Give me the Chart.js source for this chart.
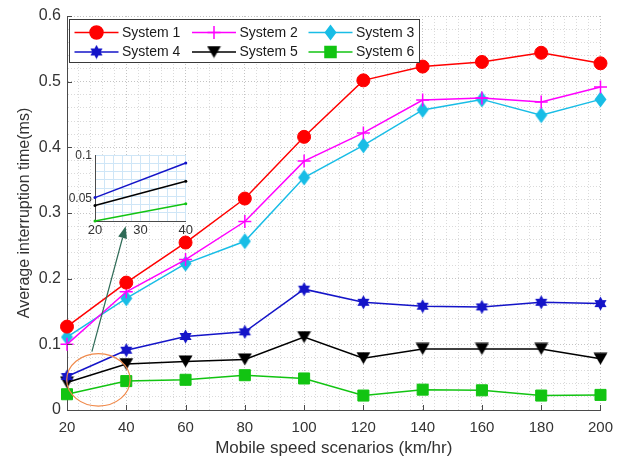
<!DOCTYPE html>
<html>
<head>
<meta charset="utf-8">
<script src="https://cdn.jsdelivr.net/npm/chart.js@4.4.1/dist/chart.umd.min.js"></script>
<style>
  html, body { margin: 0; padding: 0; background: #fff; }
  #wrap { position: relative; width: 622px; height: 459px; }
  #main { position: absolute; left: 0; top: 0; }
  #inset { position: absolute; left: 55px; top: 145px; }
</style>
</head>
<body>
<div id="wrap">
  <canvas id="main" width="622" height="459"></canvas>
  <canvas id="inset" width="140" height="95"></canvas>
</div>
<script>
// Mobile speed scenarios (km/hr)
const speeds = [20, 40, 60, 80, 100, 120, 140, 160, 180, 200];

// Average interruption time (ms) per system
const system1 = [0.127, 0.194, 0.255, 0.322, 0.416, 0.502, 0.523, 0.530, 0.544, 0.528];
const system2 = [0.100, 0.180, 0.229, 0.287, 0.379, 0.422, 0.472, 0.475, 0.469, 0.492];
const system3 = [0.111, 0.170, 0.223, 0.257, 0.354, 0.403, 0.457, 0.473, 0.449, 0.473];
const system4 = [0.051, 0.091, 0.112, 0.119, 0.184, 0.164, 0.158, 0.157, 0.164, 0.162];
const system5 = [0.042, 0.070, 0.074, 0.077, 0.111, 0.079, 0.093, 0.093, 0.093, 0.078];
const system6 = [0.024, 0.044, 0.046, 0.053, 0.048, 0.022, 0.031, 0.030, 0.022, 0.023];

const seriesNames = ['System 1', 'System 2', 'System 3', 'System 4', 'System 5', 'System 6'];

// Labelled ticks
const xTickLabels = [20, 40, 60, 80, 100, 120, 140, 160, 180, 200];
const yTickLabels = [0, 0.1, 0.2, 0.3, 0.4, 0.5, 0.6];
const insetXTickLabels = [20, 30, 40];
const insetYTickLabels = [0.05, 0.1];

// Zoomed window shown in the inset
const insetSpeeds = [20, 40];
const insetYRange = [0.024, 0.1];

// Highlight ellipse (centre and radii in data units) and the arrow to the inset
const zoomEllipse = { x: 30.6, y: 0.046, rx: 10.7, ry: 0.040 };
const zoomArrow = { from: [28.4, 0.089], to: [39.8, 0.28] };

const FONT = 'Arial, "Liberation Sans", Helvetica, sans-serif';
const TEXT = '#333333';
const AXIS = '#4a4a4a';
const GRID_MAJOR = '#c4c4c4';
const GRID_MINOR = '#dadada';

const COLORS = ['#ff0000', '#ff00ff', '#18bde6', '#1414c8', '#000000', '#12c412'];

// Marker images for shapes Chart.js does not provide
function markerCanvas(w, h, draw) {
  const c = document.createElement('canvas');
  c.width = w; c.height = h;
  draw(c.getContext('2d'), w, h);
  return c;
}
const diamondMarker = markerCanvas(13, 17, (g, w, h) => {
  g.fillStyle = COLORS[2];
  g.beginPath();
  g.moveTo(w / 2, 0.5); g.lineTo(w - 0.5, h / 2); g.lineTo(w / 2, h - 0.5); g.lineTo(0.5, h / 2);
  g.closePath(); g.fill();
});
const hexagramMarker = markerCanvas(15, 15, (g, w, h) => {
  const cx = w / 2, cy = h / 2, R = 7;
  g.fillStyle = COLORS[3];
  [-90, 90].forEach(start => {
    g.beginPath();
    for (let k = 0; k < 3; k++) {
      const a = (start + k * 120) * Math.PI / 180;
      const px = cx + R * Math.cos(a), py = cy + R * Math.sin(a);
      k === 0 ? g.moveTo(px, py) : g.lineTo(px, py);
    }
    g.closePath(); g.fill();
  });
});
const triangleDownMarker = markerCanvas(15, 13, (g, w, h) => {
  g.fillStyle = COLORS[4];
  g.beginPath();
  g.moveTo(0.5, 0.5); g.lineTo(w - 0.5, 0.5); g.lineTo(w / 2, h - 0.5);
  g.closePath(); g.fill();
});

const markers = [
  { pointStyle: 'circle', radius: 6.5, borderWidth: 1 },
  { pointStyle: 'cross', radius: 6.5, borderWidth: 1.5 },
  { pointStyle: diamondMarker, radius: 8, borderWidth: 0 },
  { pointStyle: hexagramMarker, radius: 7, borderWidth: 0 },
  { pointStyle: triangleDownMarker, radius: 7, borderWidth: 0 },
  { pointStyle: 'rect', radius: 7.8, borderWidth: 1 }
];

const allSeries = [system1, system2, system3, system4, system5, system6];

const datasets = allSeries.map((vals, i) => ({
  label: seriesNames[i],
  data: speeds.map((x, j) => ({ x: x, y: vals[j] })),
  borderColor: COLORS[i],
  backgroundColor: COLORS[i],
  borderWidth: 1.5,
  pointStyle: markers[i].pointStyle,
  pointRadius: markers[i].radius,
  pointHoverRadius: markers[i].radius,
  pointBorderWidth: markers[i].borderWidth,
  pointBorderColor: COLORS[i],
  pointBackgroundColor: COLORS[i],
  tension: 0,
  clip: false
}));

const isMultiple = (v, step) => Math.abs(v / step - Math.round(v / step)) < 1e-6;

// Ellipse, arrow, legend box and inward tick marks
const decorations = {
  id: 'decorations',
  afterDatasetsDraw(chart) {
    const ctx = chart.ctx, xs = chart.scales.x, ys = chart.scales.y;
    // ellipse around the zoomed region
    const cx = xs.getPixelForValue(zoomEllipse.x), cy = ys.getPixelForValue(zoomEllipse.y);
    const rx = xs.getPixelForValue(zoomEllipse.x + zoomEllipse.rx) - cx;
    const ry = cy - ys.getPixelForValue(zoomEllipse.y + zoomEllipse.ry);
    ctx.save();
    ctx.strokeStyle = '#f08a4b';
    ctx.lineWidth = 1.2;
    ctx.beginPath();
    ctx.ellipse(cx, cy, rx, ry, 0, 0, Math.PI * 2);
    ctx.stroke();
    // arrow pointing to the inset
    const x1 = xs.getPixelForValue(zoomArrow.from[0]), y1 = ys.getPixelForValue(zoomArrow.from[1]);
    const x2 = xs.getPixelForValue(zoomArrow.to[0]), y2 = ys.getPixelForValue(zoomArrow.to[1]);
    const ang = Math.atan2(y2 - y1, x2 - x1);
    const headLen = 12, headW = 4.5;
    const bx = x2 - headLen * Math.cos(ang), by = y2 - headLen * Math.sin(ang);
    ctx.strokeStyle = '#2f6b57';
    ctx.fillStyle = '#2f6b57';
    ctx.lineWidth = 1.2;
    ctx.beginPath(); ctx.moveTo(x1, y1); ctx.lineTo(bx, by); ctx.stroke();
    ctx.beginPath();
    ctx.moveTo(x2, y2);
    ctx.lineTo(bx + headW * Math.sin(ang), by - headW * Math.cos(ang));
    ctx.lineTo(bx - headW * Math.sin(ang), by + headW * Math.cos(ang));
    ctx.closePath(); ctx.fill();
    ctx.restore();
  },
  afterDraw(chart) {
    const ctx = chart.ctx, area = chart.chartArea, xs = chart.scales.x, ys = chart.scales.y;
    ctx.save();
    // inward tick marks on the labelled positions
    ctx.strokeStyle = AXIS;
    ctx.lineWidth = 1;
    ctx.beginPath();
    xTickLabels.forEach(v => {
      const px = Math.round(xs.getPixelForValue(v)) + 0.5;
      ctx.moveTo(px, area.bottom); ctx.lineTo(px, area.bottom - 5);
    });
    yTickLabels.forEach(v => {
      const py = Math.round(ys.getPixelForValue(v)) + 0.5;
      ctx.moveTo(area.left, py); ctx.lineTo(area.left + 5, py);
    });
    ctx.stroke();

    // legend box: two rows of three entries
    const bx = area.left + 2.5, by = area.top + 3.5, bw = 350, bh = 43;
    ctx.fillStyle = '#ffffff';
    ctx.fillRect(bx, by, bw, bh);
    ctx.strokeStyle = '#3a3a3a';
    ctx.lineWidth = 1;
    ctx.strokeRect(bx, by, bw, bh);
    const colX = [5, 122.5, 239];
    const rowY = [13, 32.5];
    ctx.font = '14px ' + FONT;
    ctx.textBaseline = 'middle';
    ctx.textAlign = 'left';
    chart.data.datasets.forEach((ds, i) => {
      const lx = bx + colX[i % 3], ly = by + rowY[Math.floor(i / 3)];
      ctx.strokeStyle = ds.borderColor;
      ctx.fillStyle = ds.backgroundColor;
      ctx.lineWidth = 1.5;
      ctx.beginPath(); ctx.moveTo(lx, ly); ctx.lineTo(lx + 44, ly); ctx.stroke();
      Chart.helpers.drawPoint(ctx, {
        pointStyle: ds.pointStyle, radius: ds.pointRadius, rotation: 0,
        borderWidth: ds.pointBorderWidth
      }, lx + 22, ly);
      ctx.fillStyle = '#1a1a1a';
      ctx.fillText(ds.label, lx + 47.5, ly + 0.5);
    });
    ctx.restore();
  }
};

new Chart(document.getElementById('main'), {
  type: 'line',
  data: { datasets: datasets },
  options: {
    responsive: false,
    animation: false,
    devicePixelRatio: 1,
    layout: { padding: { left: 0, right: 21, top: 16, bottom: 0 } },
    plugins: { legend: { display: false }, tooltip: { enabled: false } },
    scales: {
      x: {
        type: 'linear',
        min: 20, max: 200,
        afterFit(s) { s.height = 49; },
        ticks: {
          stepSize: 4, autoSkip: false, maxRotation: 0, padding: 9,
          color: TEXT, font: { family: FONT, size: 15 },
          callback: v => (isMultiple(v, 20) ? String(Math.round(v)) : '')
        },
        grid: {
          lineWidth: 1, drawTicks: false, borderDash: [1, 2],
          color: c => (c.tick && isMultiple(c.tick.value, 20) ? GRID_MAJOR : GRID_MINOR)
        },
        border: { display: true, color: AXIS, width: 1, dash: [1, 2] },
        title: {
          display: true, text: 'Mobile speed scenarios (km/hr)',
          color: TEXT, font: { family: FONT, size: 17 }, padding: { top: 0, bottom: 0 }
        }
      },
      y: {
        type: 'linear',
        min: 0, max: 0.6,
        afterFit(s) { s.width = 67; },
        ticks: {
          stepSize: 0.02, autoSkip: false, padding: 6,
          color: TEXT, font: { family: FONT, size: 16 },
          callback: v => (isMultiple(v, 0.1) ? String(Math.round(v * 10) / 10) : '')
        },
        grid: {
          lineWidth: 1, drawTicks: false, borderDash: [1, 2],
          color: c => (c.tick && isMultiple(c.tick.value, 0.1) ? GRID_MAJOR : GRID_MINOR)
        },
        border: { display: true, color: AXIS, width: 1, dash: [1, 2] },
        title: {
          display: true, text: 'Average interruption time(ms)',
          color: TEXT, font: { family: FONT, size: 16 }, padding: { top: 15, bottom: 0 }
        }
      }
    }
  },
  plugins: [decorations]
});

// Inset: first two speed scenarios of systems 4, 5 and 6
const insetSeries = [system4, system5, system6];
const insetColors = [COLORS[3], COLORS[4], COLORS[5]];
const insetDatasets = insetSeries.map((vals, i) => ({
  data: insetSpeeds.map((x, j) => ({ x: x, y: vals[speeds.indexOf(x)] })),
  borderColor: insetColors[i],
  backgroundColor: insetColors[i],
  borderWidth: 1.5,
  pointRadius: 1.5,
  pointBorderWidth: 0,
  tension: 0,
  clip: false
}));

const insetBackground = {
  id: 'insetBackground',
  beforeDraw(chart) {
    const a = chart.chartArea;
    chart.ctx.save();
    chart.ctx.fillStyle = '#ffffff';
    chart.ctx.fillRect(a.left, a.top, a.right - a.left, a.bottom - a.top);
    chart.ctx.restore();
  }
};

new Chart(document.getElementById('inset'), {
  type: 'line',
  data: { datasets: insetDatasets },
  options: {
    responsive: false,
    animation: false,
    devicePixelRatio: 1,
    layout: { padding: { left: 0, right: 8, top: 10, bottom: 0 } },
    plugins: { legend: { display: false }, tooltip: { enabled: false } },
    scales: {
      x: {
        type: 'linear',
        min: insetSpeeds[0], max: insetSpeeds[1],
        afterFit(s) { s.height = 19; },
        ticks: {
          stepSize: 2, autoSkip: false, maxRotation: 0, padding: 2,
          color: TEXT, font: { family: FONT, size: 13 },
          callback: v => (insetXTickLabels.some(t => Math.abs(t - v) < 1e-6) ? String(Math.round(v)) : '')
        },
        grid: { color: '#cfe6f7', lineWidth: 1, drawTicks: false },
        border: { display: true, color: AXIS, width: 1 }
      },
      y: {
        type: 'linear',
        min: insetYRange[0], max: insetYRange[1],
        afterFit(s) { s.width = 40; },
        afterBuildTicks(s) {
          const step = (insetYRange[1] - insetYRange[0]) / 8;
          const vals = [];
          for (let k = 0; k <= 8; k++) vals.push(insetYRange[0] + k * step);
          insetYTickLabels.forEach(v => { if (!vals.some(t => Math.abs(t - v) < 1e-9)) vals.push(v); });
          vals.sort((a, b) => a - b);
          s.ticks = vals.map(v => ({ value: v }));
        },
        ticks: {
          autoSkip: false, padding: 3,
          color: TEXT, font: { family: FONT, size: 12 },
          callback: v => {
            const hit = insetYTickLabels.find(t => Math.abs(t - v) < 1e-9);
            return hit !== undefined ? String(hit) : '';
          }
        },
        grid: {
          drawTicks: false, lineWidth: 1,
          color: c => (c.tick && insetYTickLabels.some(t => Math.abs(t - c.tick.value) < 1e-9) &&
                       Math.abs(c.tick.value - insetYRange[1]) > 1e-9 ? 'rgba(0,0,0,0)' : '#cfe6f7')
        },
        border: { display: true, color: AXIS, width: 1 }
      }
    }
  },
  plugins: [insetBackground]
});
</script>
</body>
</html>
